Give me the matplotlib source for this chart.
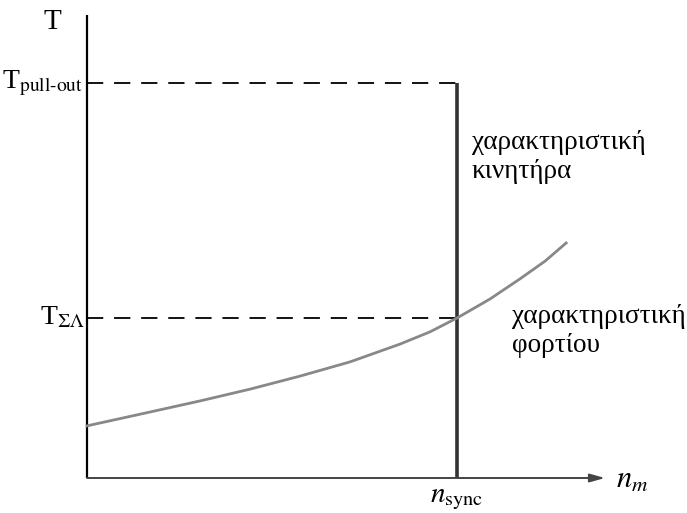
import matplotlib
matplotlib.use("Agg")
import matplotlib.pyplot as plt

plt.rcParams["font.family"] = ["Liberation Serif", "DejaVu Serif"]
plt.rcParams["mathtext.fontset"] = "stix"

# speed axis: n_sync = 1, torque axis: T_pull-out = 1
n_sync = 1.0
T_pullout = 1.0
T_load_sync = 0.405

# load torque characteristic
load_n = [0.0, 0.170, 0.305, 0.441, 0.576, 0.711, 0.846, 0.927, 1.0,
          1.089, 1.170, 1.238, 1.295]
load_T = [0.132, 0.167, 0.195, 0.225, 0.258, 0.294, 0.339, 0.370, 0.405,
          0.453, 0.504, 0.549, 0.595]

n_axis_end = 1.4
T_axis_end = 1.172

fig = plt.figure(figsize=(6.87, 5.13), dpi=100)
ax = fig.add_axes([0, 0, 1, 1])
ax.set_xlim(-87 / 370, 600 / 370)
ax.set_ylim(-35 / 395, 478 / 395)
ax.axis("off")

# axes
ax.plot([0, 0], [0, T_axis_end], color="black", lw=1.6, solid_capstyle="butt")
ax.annotate("", xy=(n_axis_end, 0), xytext=(0, 0),
            arrowprops=dict(arrowstyle="-|>,head_length=0.9,head_width=0.25",
                            color="#444444", lw=1.4, shrinkA=0, shrinkB=0))

# motor characteristic (vertical at synchronous speed)
ax.plot([n_sync, n_sync], [0, T_pullout], color="#333333", lw=2.6, solid_capstyle="butt")

# dashed guide lines
ax.plot([0, n_sync], [T_pullout, T_pullout], color="black", lw=1.3, ls=(0, (9, 6)))
ax.plot([0, n_sync], [T_load_sync, T_load_sync], color="black", lw=1.3, ls=(0, (9, 6)))

# load characteristic
ax.plot(load_n, load_T, color="#888888", lw=2.0, solid_joinstyle="round")

# labels
ax.text(-0.07, 1.155, "T", fontsize=21, ha="right", va="center")
ax.text(-0.01, T_pullout, r"T$_{\mathrm{pull\text{-}out}}$", fontsize=20,
        ha="right", va="center")
ax.text(-0.005, T_load_sync, r"T$_{\Sigma\Lambda}$", fontsize=20,
        ha="right", va="center")
ax.text(n_axis_end + 0.03, -0.005, r"$n_m$", fontsize=22, ha="left", va="center")
ax.text(n_sync, -0.02, r"$n_{\mathrm{sync}}$", fontsize=21, ha="center", va="top")

ax.text(1.04, 0.88, "χαρακτηριστική\nκινητήρα", fontsize=19.5, ha="left",
        va="top", linespacing=1.2)
ax.text(1.148, 0.44, "χαρακτηριστική\nφορτίου", fontsize=19.5, ha="left",
        va="top", linespacing=1.2)

fig.savefig("out.png", dpi=100)
